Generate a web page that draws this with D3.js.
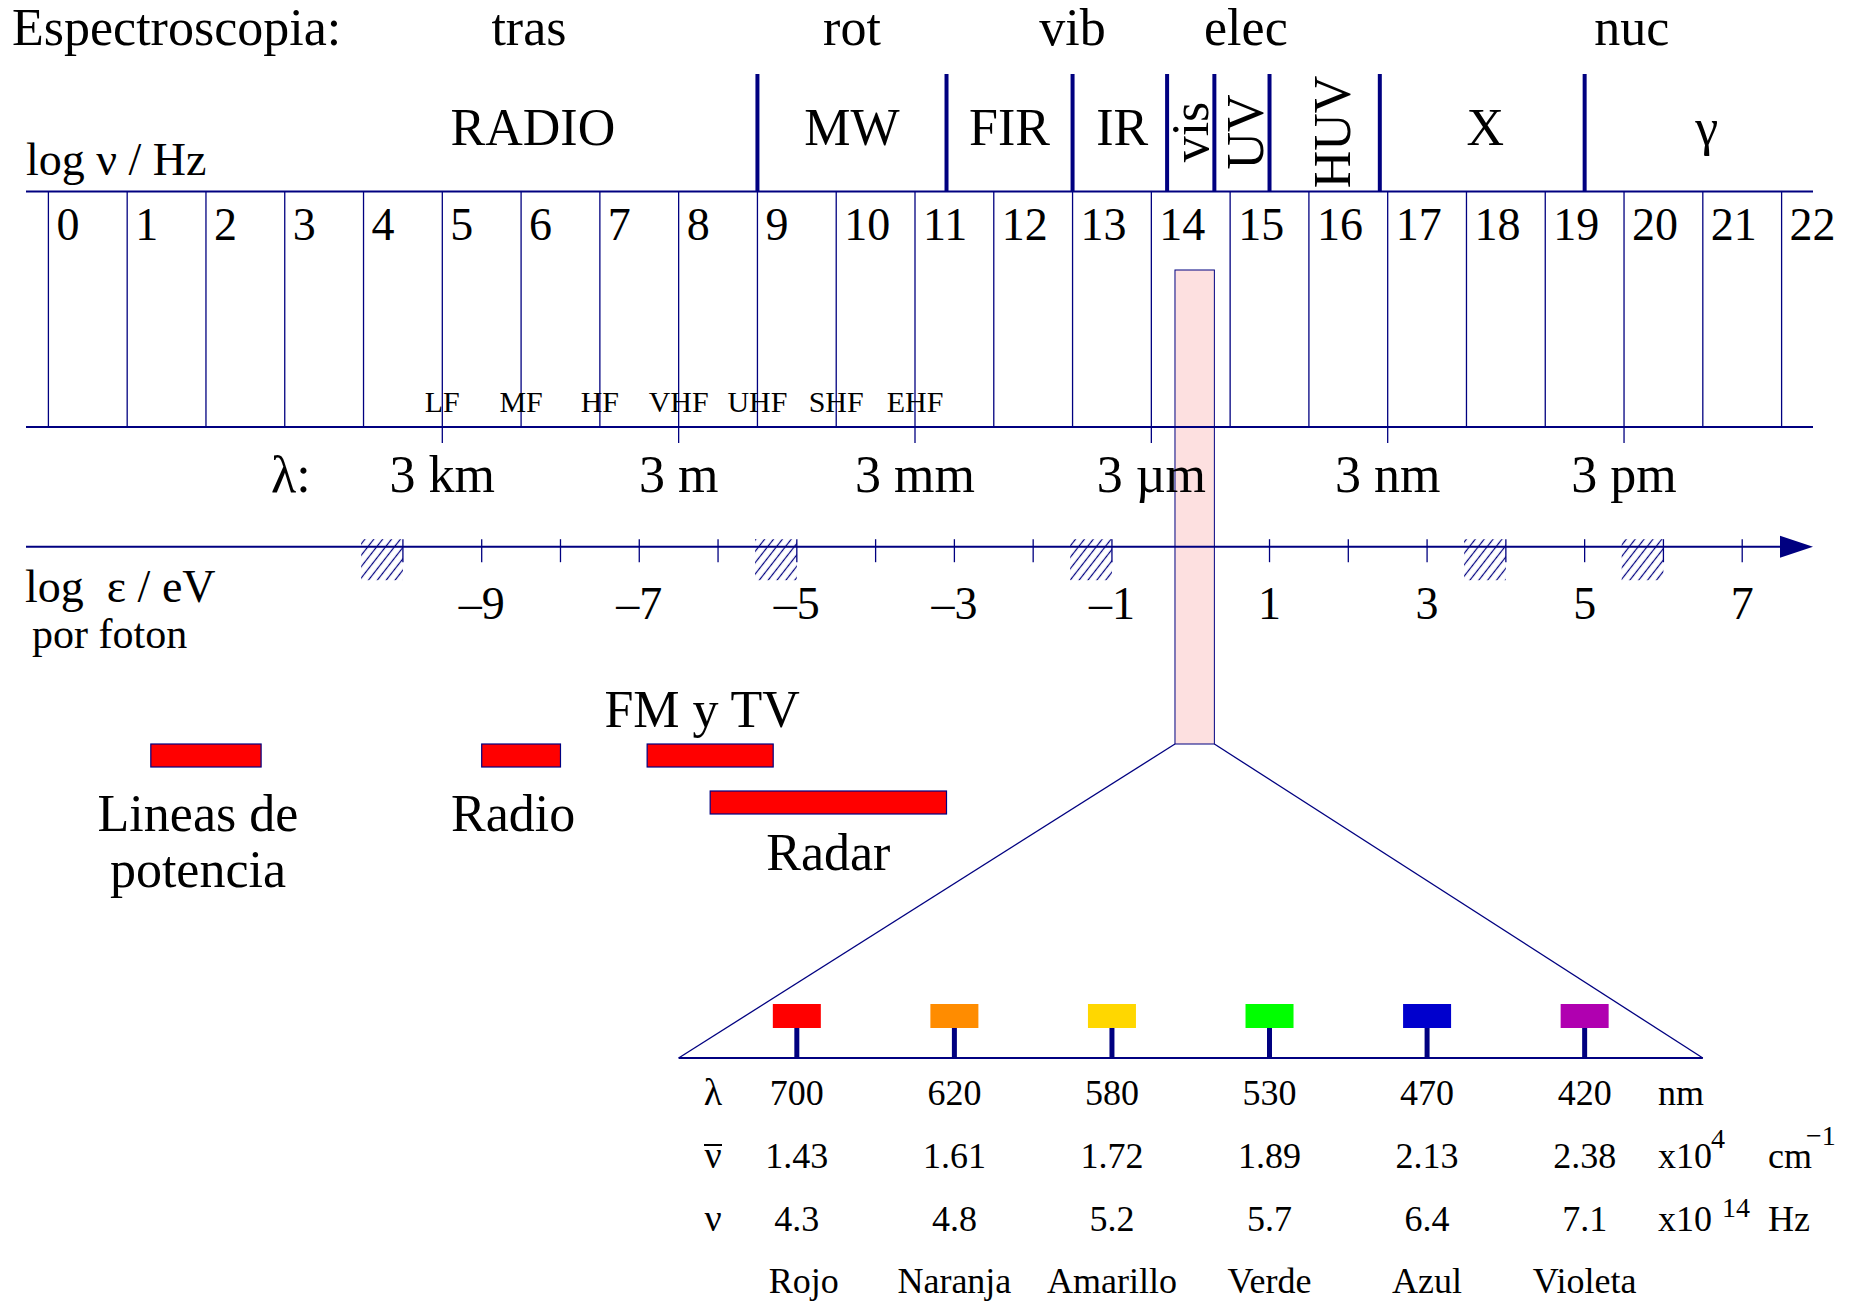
<!DOCTYPE html>
<html>
<head>
<meta charset="utf-8">
<script src="https://cdn.jsdelivr.net/npm/d3@7"></script>
<style>
  html, body { margin: 0; padding: 0; background: #fff; }
  svg { display: block; }
  text { font-family: "Liberation Serif", "Times New Roman", serif; fill: #000; }
</style>
</head>
<body>
<svg id="chart" width="1850" height="1302"></svg>
<script>
// ---- data -------------------------------------------------------------
// grid lines: log10 of the frequency in Hz
const nuTicks = d3.range(0, 23);

// spectral regions: boundaries (log ν) and label centres
const regionBounds = [9, 11.4, 13, 14.2, 14.8, 15.5, 16.9, 19.5];
const regionNames = ["RADIO", "MW", "FIR", "IR", "vis", "UV", "HUV", "X", "γ"];
const regionLabelPos = [6.15, 10.2, 12.2, 13.63, 14.5, 15.2, 16.3, 18.24, 21.05];
const regionVertical = [false, false, false, false, true, true, true, false, false];

// kind of spectroscopy probed in each range
const spectroNames = ["tras", "rot", "vib", "elec", "nuc"];
const spectroPos = [6.1, 10.2, 13.0, 15.2, 20.1];

// radio band designations, centred on their decade
const bandCodes = ["LF", "MF", "HF", "VHF", "UHF", "SHF", "EHF"];
const bandCodePos = [5, 6, 7, 8, 9, 10, 11];

// wavelength marks
const lambdaLabels = ["3 km", "3 m", "3 mm", "3 µm", "3 nm", "3 pm"];
const lambdaPos = [5, 8, 11, 14, 17, 20];

// photon energy axis (log ε / eV)
const epsTicks = d3.range(-10, 8);
const epsLabelTicks = [-9, -7, -5, -3, -1, 1, 3, 5, 7];
const epsHatched = [-10, -5, -1, 4, 6];
const epsOffset = 14.5;            // log ν − log ε

// visible window (log ν)
const visBand = [14.3, 14.8];

// technological uses (log ν ranges)
const usesNames = [["Lineas de", "potencia"], ["Radio"], ["FM y TV"], ["Radar"]];
const usesFrom = [1.3, 5.5, 7.6, 8.4];
const usesTo = [2.7, 6.5, 9.2, 11.4];

// visible colours
const colorNames = ["Rojo", "Naranja", "Amarillo", "Verde", "Azul", "Violeta"];
const colorFills = ["#ff0000", "#ff8c00", "#ffd700", "#00ff00", "#0000cd", "#b000b0"];
const wavelengthNm = [700, 620, 580, 530, 470, 420];
const wavenumber = [1.43, 1.61, 1.72, 1.89, 2.13, 2.38];   // x10^4 cm^-1
const frequency = [4.3, 4.8, 5.2, 5.7, 6.4, 7.1];          // x10^14 Hz
const colorSpan = [9.5, 19.5];                              // log ν span used for the swatch row
const zoomBase = [8, 21];                                   // log ν span of the magnified base

// ---- layout ------------------------------------------------------------
const NAVY = "#000080";
const THIN = 1.3;
const BIG = 52, MID = 46, SMALL = 36;

const x = d3.scaleLinear().domain([0, 22]).range([48.4, 1781.6]);
const xEps = d3.scaleLinear().domain([0 - epsOffset, 22 - epsOffset]).range(x.range());

const lineX0 = 26, lineX1 = 1813;
const y = {
  row1: 45, regionTop: 74, regionLabel: 145, logNu: 175,
  gridTop: 191.5, nuNum: 240, visTop: 270, bandCode: 412, gridBot: 427,
  lambdaTick: 443, lambda: 492, eps: 546.7, epsLabel: 619,
  useLane0: 744, laneStep: 47, barH: 23,
  zoomBottom: 1058, swatchTop: 1004, swatchH: 24,
  rowLambda: 1105, rowWavenumber: 1168, rowFreq: 1231, rowName: 1293
};

const svg = d3.select("#chart");

// hatch pattern for the energy-axis markers
svg.append("defs").append("pattern")
  .attr("id", "hatch").attr("patternUnits", "userSpaceOnUse")
  .attr("width", 7).attr("height", 7)
  .attr("patternTransform", "rotate(38)")
  .append("line")
  .attr("x1", 3.5).attr("y1", 0).attr("x2", 3.5).attr("y2", 7)
  .attr("stroke", NAVY).attr("stroke-width", 1.2);

function text(g, str, tx, ty, size, anchor) {
  return g.append("text").attr("x", tx).attr("y", ty)
    .attr("font-size", size).attr("text-anchor", anchor || "start").text(str);
}

// ---- visible window column (under the grid lines) ---------------------
const visBottom = y.useLane0;
svg.append("rect")
  .attr("x", x(visBand[0])).attr("y", y.visTop)
  .attr("width", x(visBand[1]) - x(visBand[0]))
  .attr("height", visBottom - y.visTop)
  .attr("fill", "#fde0e0").attr("stroke", NAVY).attr("stroke-width", 1);

// ---- header rows --------------------------------------------------------
text(svg, "Espectroscopia:", 12, y.row1, BIG);
svg.append("g").selectAll("text").data(spectroNames).join("text")
  .attr("x", (d, i) => x(spectroPos[i])).attr("y", y.row1)
  .attr("font-size", BIG).attr("text-anchor", "middle").text(d => d);

text(svg, "log ν / Hz", 26, y.logNu, MID);

// region boundaries
svg.append("g").selectAll("line").data(regionBounds).join("line")
  .attr("x1", d => x(d)).attr("x2", d => x(d))
  .attr("y1", y.regionTop).attr("y2", y.gridTop)
  .attr("stroke", NAVY).attr("stroke-width", 4);

// region names
svg.append("g").selectAll("text").data(regionNames).join("text")
  .attr("font-size", BIG).attr("text-anchor", "middle")
  .attr("transform", (d, i) => regionVertical[i]
    ? `translate(${x(regionLabelPos[i])},132) rotate(-90)`
    : `translate(${x(regionLabelPos[i])},${y.regionLabel})`)
  .attr("dy", (d, i) => regionVertical[i] ? "0.33em" : null)
  .text(d => d);

// ---- frequency grid -----------------------------------------------------
const grid = svg.append("g");
grid.selectAll("line.v").data(nuTicks).join("line").attr("class", "v")
  .attr("x1", d => x(d)).attr("x2", d => x(d))
  .attr("y1", y.gridTop)
  .attr("y2", d => lambdaPos.includes(d) ? y.lambdaTick : y.gridBot)
  .attr("stroke", NAVY).attr("stroke-width", THIN);
grid.selectAll("line.h").data([y.gridTop, y.gridBot]).join("line").attr("class", "h")
  .attr("x1", lineX0).attr("x2", lineX1).attr("y1", d => d).attr("y2", d => d)
  .attr("stroke", NAVY).attr("stroke-width", 2);
grid.selectAll("text.num").data(nuTicks).join("text").attr("class", "num")
  .attr("x", d => x(d) + 8).attr("y", y.nuNum)
  .attr("font-size", MID).text(d => d);
grid.selectAll("text.band").data(bandCodes).join("text").attr("class", "band")
  .attr("x", (d, i) => x(bandCodePos[i])).attr("y", y.bandCode)
  .attr("font-size", 30).attr("text-anchor", "middle").text(d => d);

// ---- wavelength row ----------------------------------------------------
text(svg, "λ:", 271, y.lambda, BIG);
svg.append("g").selectAll("text").data(lambdaLabels).join("text")
  .attr("x", (d, i) => x(lambdaPos[i])).attr("y", y.lambda)
  .attr("font-size", BIG).attr("text-anchor", "middle").text(d => d);

// ---- energy axis -------------------------------------------------------
const epsG = svg.append("g");
const arrowLen = 33, arrowHalf = 11;
epsG.append("line")
  .attr("x1", lineX0).attr("x2", lineX1 - arrowLen + 2)
  .attr("y1", y.eps).attr("y2", y.eps)
  .attr("stroke", NAVY).attr("stroke-width", 2);
epsG.append("path")
  .attr("d", d3.line()([[lineX1 - arrowLen, y.eps - arrowHalf], [lineX1, y.eps], [lineX1 - arrowLen, y.eps + arrowHalf]]) + "Z")
  .attr("fill", NAVY);

const hatchW = xEps(0) - xEps(-0.53);
epsG.selectAll("rect.hatch").data(epsHatched).join("rect").attr("class", "hatch")
  .attr("x", d => xEps(d) - hatchW).attr("y", y.eps - 7.5)
  .attr("width", hatchW).attr("height", 41)
  .attr("fill", "url(#hatch)");

const visEps = visBand.map(v => v - epsOffset);
epsG.selectAll("line.tick")
  .data(epsTicks.filter(e => e < visEps[0] || e > visEps[1]))
  .join("line").attr("class", "tick")
  .attr("x1", d => xEps(d)).attr("x2", d => xEps(d))
  .attr("y1", y.eps - 7.5).attr("y2", y.eps + 15.5)
  .attr("stroke", NAVY).attr("stroke-width", THIN);

epsG.selectAll("text").data(epsLabelTicks).join("text")
  .attr("x", d => xEps(d)).attr("y", y.epsLabel)
  .attr("font-size", MID).attr("text-anchor", "middle")
  .text(d => d < 0 ? "–" + Math.abs(d) : String(d));

text(svg, "log  ε / eV", 25, 602, MID).style("white-space", "pre");
text(svg, "por foton", 32, 648, 42);

// ---- technological uses -------------------------------------------------
// greedy lane assignment: a bar drops one lane when it overlaps an earlier one
const lanes = [];
const useLane = usesFrom.map((f, i) => {
  let lane = 0;
  while (lanes[lane] !== undefined && lanes[lane] > f) lane++;
  lanes[lane] = usesTo[i];
  return lane;
});
const usesG = svg.append("g");
usesG.selectAll("rect").data(usesFrom).join("rect")
  .attr("x", (d, i) => x(usesFrom[i]))
  .attr("y", (d, i) => y.useLane0 + useLane[i] * y.laneStep)
  .attr("width", (d, i) => x(usesTo[i]) - x(usesFrom[i]))
  .attr("height", y.barH)
  .attr("fill", "#ff0000").attr("stroke", NAVY).attr("stroke-width", 1.2);

usesNames.forEach((lines, i) => {
  const lane = useLane[i];
  const top = y.useLane0 + lane * y.laneStep;
  // label goes above when a bar in the next lane sits underneath
  const blocked = usesFrom.some((f, j) => useLane[j] === lane + 1 &&
    f < usesTo[i] && usesTo[j] > usesFrom[i]);
  const cx = (x(usesFrom[i]) + x(usesTo[i])) / 2;
  lines.forEach((ln, k) => {
    const ty = blocked ? top - 17 : top + y.barH + (lane ? 56 : 64) + k * 56;
    text(usesG, ln, cx - (lane ? 0 : 8), ty, BIG, "middle");
  });
});

// ---- magnified visible window -----------------------------------------
const zoomG = svg.append("g");
zoomG.append("path")
  .attr("d", d3.line()([[x(visBand[0]), visBottom], [x(zoomBase[0]), y.zoomBottom]]))
  .attr("stroke", NAVY).attr("stroke-width", THIN).attr("fill", "none");
zoomG.append("path")
  .attr("d", d3.line()([[x(visBand[1]), visBottom], [x(zoomBase[1]), y.zoomBottom]]))
  .attr("stroke", NAVY).attr("stroke-width", THIN).attr("fill", "none");
zoomG.append("line")
  .attr("x1", x(zoomBase[0])).attr("x2", x(zoomBase[1]))
  .attr("y1", y.zoomBottom).attr("y2", y.zoomBottom)
  .attr("stroke", NAVY).attr("stroke-width", 2);

const xc = d3.scalePoint().domain(colorNames).range([x(colorSpan[0]), x(colorSpan[1])]);
const swW = 48;
zoomG.selectAll("line.stem").data(colorNames).join("line").attr("class", "stem")
  .attr("x1", d => xc(d)).attr("x2", d => xc(d))
  .attr("y1", y.swatchTop + y.swatchH).attr("y2", y.zoomBottom)
  .attr("stroke", NAVY).attr("stroke-width", 5);
zoomG.selectAll("rect.sw").data(colorNames).join("rect").attr("class", "sw")
  .attr("x", d => xc(d) - swW / 2).attr("y", y.swatchTop)
  .attr("width", swW).attr("height", y.swatchH)
  .attr("fill", (d, i) => colorFills[i]);

// table under the swatches
const rowSym = 713, unitX = 1658, unit2X = 1768;
const rows = [
  { sym: "λ", bar: false, ty: y.rowLambda, vals: wavelengthNm.map(d3.format("d")) },
  { sym: "ν", bar: true, ty: y.rowWavenumber, vals: wavenumber.map(d3.format(".2f")) },
  { sym: "ν", bar: false, ty: y.rowFreq, vals: frequency.map(d3.format(".1f")) },
  { sym: "", bar: false, ty: y.rowName, vals: colorNames }
];
rows.forEach(r => {
  if (r.sym) {
    text(zoomG, r.sym, rowSym, r.ty, SMALL + 2, "middle");
    // wavenumber symbol: ν with a bar over it
    if (r.bar) zoomG.append("line")
      .attr("x1", rowSym - 9).attr("x2", rowSym + 9)
      .attr("y1", r.ty - 23).attr("y2", r.ty - 23)
      .attr("stroke", "#000").attr("stroke-width", 2);
  }
  zoomG.append("g").selectAll("text").data(r.vals).join("text")
    .attr("x", (d, i) => xc(colorNames[i]) + (i === 0 && r.ty === y.rowName ? 7 : 0))
    .attr("y", r.ty)
    .attr("font-size", SMALL).attr("text-anchor", "middle").text(d => d);
});

// units
text(zoomG, "nm", unitX, y.rowLambda, SMALL);
text(zoomG, "x10", unitX, y.rowWavenumber, SMALL);
text(zoomG, "4", unitX + 53, y.rowWavenumber - 20, 28);
text(zoomG, "cm", unit2X, y.rowWavenumber, SMALL);
text(zoomG, "−1", unit2X + 38, y.rowWavenumber - 23, 28);
text(zoomG, "x10", unitX, y.rowFreq, SMALL);
text(zoomG, "14", unitX + 64, y.rowFreq - 14, 28);
text(zoomG, "Hz", unit2X, y.rowFreq, SMALL);
</script>
</body>
</html>
